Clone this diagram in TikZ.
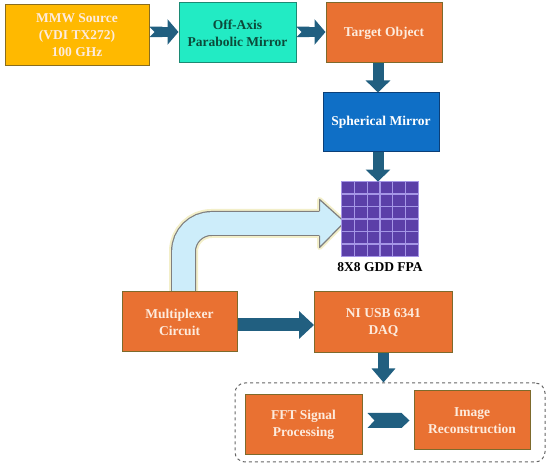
\documentclass[tikz,border=0pt]{standalone}
\usepackage{fontspec}
\setmainfont{Liberation Serif}
\usepackage{tikz}
\usetikzlibrary{arrows.meta,positioning,calc,backgrounds}

\definecolor{srcyellow}{HTML}{FFB900}
\definecolor{srcedge}{HTML}{8A6D1E}
\definecolor{oapteal}{HTML}{22EBC4}
\definecolor{oapedge}{HTML}{1C8A74}
\definecolor{oaptext}{HTML}{0C4A3A}
\definecolor{boxorange}{HTML}{E97132}
\definecolor{orangeedge}{HTML}{7D6A2C}
\definecolor{mirrorblue}{HTML}{0F6FC6}
\definecolor{mirroredge}{HTML}{0B3F78}
\definecolor{lighttext}{HTML}{FDEBDD}
\definecolor{arrowblue}{HTML}{215F80}
\definecolor{fpapurple}{HTML}{5B3FA8}
\definecolor{fpaline}{HTML}{A596E6}
\definecolor{pipeblue}{HTML}{CDEDFA}
\definecolor{pipeedge}{HTML}{7F7F7F}
\definecolor{pipeglow}{HTML}{F3EFC9}

\begin{document}
\begin{tikzpicture}[x=1pt, y=-1pt, thick,
    blockbox/.style={draw, line width=1pt, align=center, inner sep=2pt,
      font=\fontsize{13.5}{17}\selectfont\bfseries},
    orangebox/.style={blockbox, fill=boxorange, draw=orangeedge, text=lighttext,
      minimum width=116pt, minimum height=60pt},
    flowarrow/.style={line width=11pt, draw=arrowblue, -{Triangle[width=24pt,length=12pt]}},
    notcharrow/.style={line width=10.5pt, draw=arrowblue,
      {Triangle Cap[reversed,length=5pt]}-{Triangle[width=25pt,length=11pt]}}
  ]
  \useasboundingbox (0,0) rectangle (550,468);

  % Optical path
  \node[blockbox, fill=srcyellow, draw=srcedge, text=lighttext,
    minimum width=144pt, minimum height=61pt] (src) at (77,35.5)
    {MMW Source\\(VDI TX272)\\100 GHz};
  \node[blockbox, fill=oapteal, draw=oapedge, text=oaptext,
    minimum width=117pt, minimum height=60pt] (oap) at (237.5,33)
    {Off-Axis\\Parabolic Mirror};
  \node[orangebox] (tgt) at (384,33) {Target Object};
  \node[blockbox, fill=mirrorblue, draw=mirroredge, text=white,
    minimum width=116pt, minimum height=59pt] (sph) at (381,122.5)
    {Spherical Mirror};

  % Focal plane array
  \node[fill=fpapurple, minimum width=76pt, minimum height=74pt, inner sep=0pt]
    (fpa) at (380,219) {};
  \foreach \i in {1,...,5} {
    \draw[fpaline, line width=1.3pt]
      ($(fpa.north west)!\i/6!(fpa.north east)$) -- ($(fpa.south west)!\i/6!(fpa.south east)$);
    \draw[fpaline, line width=1.3pt]
      ($(fpa.north west)!\i/6!(fpa.south west)$) -- ($(fpa.north east)!\i/6!(fpa.south east)$);
  }
  \draw[fpaline, line width=1.3pt] (fpa.north west) rectangle (fpa.south east);
  \node[font=\fontsize{13.5}{15}\selectfont\bfseries, below=2pt of fpa] (fpalabel) {8X8 GDD FPA};

  % Readout chain
  \node[orangebox, minimum width=115pt] (mux) at (179.5,322) {Multiplexer\\Circuit};
  \node[orangebox, minimum width=138pt, minimum height=61pt] (daq) at (383.5,322.5)
    {NI USB 6341\\DAQ};
  \node[draw=black!60, dashed, line width=1pt, rounded corners=10pt,
    minimum width=310pt, minimum height=79pt] (proc) at (390,422.5) {};
  \node[orangebox, minimum width=117pt] (fft) at (303.5,425) {FFT Signal\\Processing};
  \node[orangebox, minimum height=59pt] (rec) at (472,420.5) {Image\\Reconstruction};

  % Arrows
  \draw[notcharrow] (src.east |- 0,32) -- (oap.west |- 0,32);
  \draw[notcharrow] (oap.east |- 0,32) -- (tgt.west |- 0,32);
  \draw[flowarrow] ([xshift=-6pt]tgt.south) -- ([xshift=-3pt]sph.north);
  \draw[flowarrow] ([xshift=-3pt]sph.south) -- ([xshift=-2pt]fpa.north);
  \draw[line width=13pt, draw=arrowblue, -{Triangle[width=27pt,length=15pt]}]
    ([yshift=-3pt]mux.east) -- ([yshift=-2.5pt]daq.west);
  \draw[flowarrow, -{Triangle[width=23pt,length=14pt]}] (daq.south) -- (daq.south |- proc.north);
  \coordinate (chtail) at ([xshift=5pt,yshift=4.5pt]fft.east);
  \coordinate (chtip) at ([xshift=-4pt]rec.west);
  \fill[arrowblue] ($(chtail)+(0,-7.5)$) -- ($(chtip)+(-8,-7.5)$) -- (chtip)
    -- ($(chtip)+(-8,7.5)$) -- ($(chtail)+(0,7.5)$) -- ($(chtail)+(7,0)$) -- cycle;

  % Control signal to the array
  \coordinate (pipestart) at ([xshift=4pt]mux.north);
  \coordinate (pipeend) at ([xshift=-22pt,yshift=-4.5pt]fpa.west);
  \coordinate (pipetip) at ([xshift=3pt,yshift=-3pt]fpa.west);
  \begin{pgfonlayer}{background}
    \draw[pipeglow, line width=29pt, rounded corners=28pt] (pipestart) |- (pipeend);
    \draw[pipeglow, line width=5pt, line join=round, fill=pipeglow]
      ([yshift=24pt]pipeend) -- (pipetip) -- ([yshift=-24pt]pipeend) -- cycle;
    \draw[pipeedge, line width=25pt, rounded corners=28pt] (pipestart) |- (pipeend);
    \draw[pipeblue, line width=22.6pt, rounded corners=28pt] (pipestart) |- ([xshift=1pt]pipeend);
    \fill[pipeblue] ([yshift=24pt]pipeend) -- (pipetip) -- ([yshift=-24pt]pipeend) -- cycle;
    \draw[pipeedge, line width=1.2pt, line join=round]
      ([yshift=12.5pt]pipeend) -- ([yshift=24pt]pipeend) -- (pipetip)
      -- ([yshift=-24pt]pipeend) -- ([yshift=-12.5pt]pipeend);
  \end{pgfonlayer}
\end{tikzpicture}
\end{document}
